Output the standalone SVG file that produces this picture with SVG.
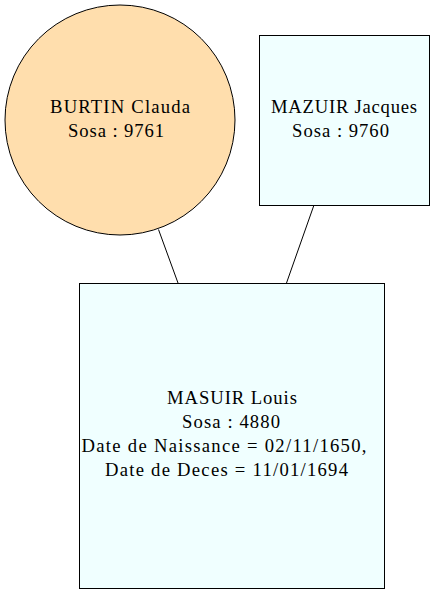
<svg xmlns="http://www.w3.org/2000/svg" width="435" height="594" viewBox="0 0 435 594">
<style>
.n{stroke:#000;stroke-width:1}
.t{font-family:"Liberation Serif","Times New Roman",Times,serif;font-size:18.67px;text-anchor:middle;fill:#000}
.e{stroke:#000;stroke-width:1;fill:none}
</style>
<rect width="435" height="594" fill="#fff"/>
<g id="edges">
<line class="e" x1="158.5" y1="229.5" x2="178" y2="283"/>
<line class="e" x1="314" y1="205" x2="286.5" y2="283"/>
</g>
<g id="burtin">
<circle class="n" cx="120" cy="120" r="115" fill="#ffdead"/>
<text class="t" font-family="Liberation Serif" x="120" y="112.5" textLength="140" lengthAdjust="spacing">BURTIN Clauda</text>
<text class="t" font-family="Liberation Serif" x="116" y="136.5" textLength="96" lengthAdjust="spacing">Sosa : 9761</text>
</g>
<g id="mazuir">
<rect class="n" x="259.5" y="35.5" width="170" height="170" fill="#f0ffff"/>
<text class="t" font-family="Liberation Serif" x="344" y="112.5" textLength="146" lengthAdjust="spacing">MAZUIR Jacques</text>
<text class="t" font-family="Liberation Serif" x="340.5" y="136.5" textLength="97" lengthAdjust="spacing">Sosa : 9760</text>
</g>
<g id="masuir">
<rect class="n" x="79.5" y="283.5" width="305" height="305" fill="#f0ffff"/>
<text class="t" font-family="Liberation Serif" x="232" y="404" textLength="130" lengthAdjust="spacing">MASUIR Louis</text>
<text class="t" font-family="Liberation Serif" x="231" y="428" textLength="98" lengthAdjust="spacing">Sosa : 4880</text>
<text class="t" font-family="Liberation Serif" x="224" y="452" textLength="285" lengthAdjust="spacing">Date de Naissance = 02/11/1650,</text>
<text class="t" font-family="Liberation Serif" x="226.5" y="476" textLength="243" lengthAdjust="spacing">Date de Deces = 11/01/1694</text>
</g>
</svg>
